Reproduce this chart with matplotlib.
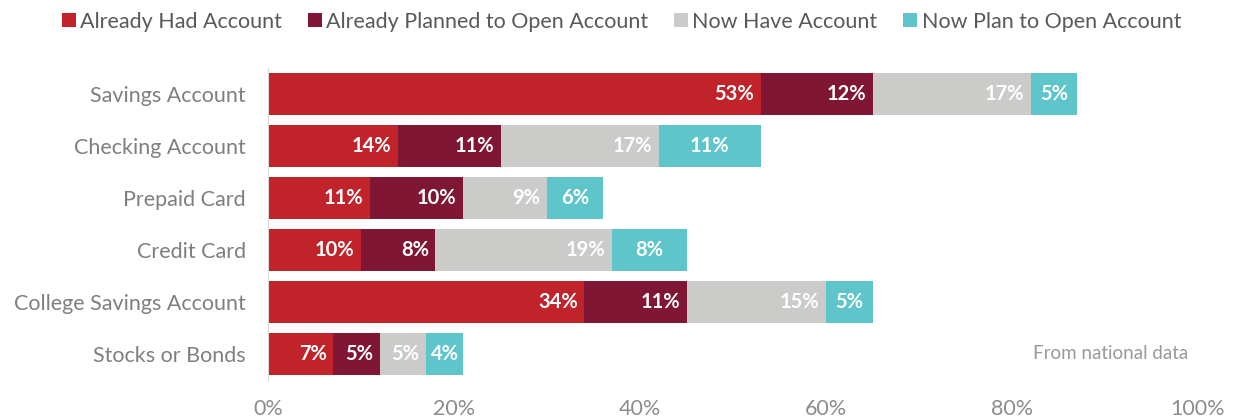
import matplotlib.pyplot as plt

plt.rcParams['font.family'] = ['Lato', 'DejaVu Sans']

categories = ["Savings Account", "Checking Account", "Prepaid Card", "Credit Card",
              "College Savings Account", "Stocks or Bonds"]
series_names = ["Already Had Account", "Already Planned to Open Account",
                "Now Have Account", "Now Plan to Open Account"]
already_had = [53, 14, 11, 10, 34, 7]
already_planned = [12, 11, 10, 8, 11, 5]
now_have = [17, 17, 9, 19, 15, 5]
now_plan = [5, 11, 6, 8, 5, 4]
colors = ["#C1232B", "#7F1734", "#CBCBC9", "#5EC5CA"]
x_ticks = [0, 20, 40, 60, 80, 100]
note = "From national data"

fig = plt.figure(figsize=(12.38, 4.19), dpi=100)
ax = fig.add_axes([268 / 1238, 1 - 380 / 419, 930 / 1238, 312 / 419])

ypos = list(range(len(categories)))
left = [0] * len(categories)
all_series = [already_had, already_planned, now_have, now_plan]
for i, vals in enumerate(all_series):
	ax.barh(ypos, vals, left=left, height=0.79, color=colors[i], label=series_names[i])
	for y, l, v in zip(ypos, left, vals):
		if i == 3:
			ax.text(l + v / 2, y, "%d%%" % v, ha="center", va="center",
					color="white", fontsize=14.5, fontweight="bold")
		else:
			ax.text(l + v - 0.7, y, "%d%%" % v, ha="right", va="center",
					color="white", fontsize=14.5, fontweight="bold")
	left = [a + b for a, b in zip(left, vals)]

ax.set_ylim(len(categories) - 0.5, -0.5)
ax.set_xlim(0, 100)
ax.set_yticks(ypos)
ax.set_yticklabels(categories, fontsize=15.5, color="#7F7F7F")
ax.set_xticks(x_ticks)
ax.set_xticklabels(["%d%%" % t for t in x_ticks], fontsize=15.5, color="#8C8C8C")
ax.tick_params(axis="y", length=0, pad=16)
ax.tick_params(axis="x", length=0, pad=14)
for s in ["top", "right", "bottom"]:
	ax.spines[s].set_visible(False)
ax.spines["left"].set_color("#D9D9D9")

ax.text(0.99, 0.085, note, transform=ax.transAxes, ha="right", va="center",
		fontsize=13.5, color="#999999")

fig.legend(loc="center", bbox_to_anchor=(0.502, 0.948), ncol=4, frameon=False,
		   fontsize=15.5, handlelength=0.65, handleheight=0.65, handletextpad=0.2,
		   columnspacing=1.2, labelcolor="#595959")

fig.savefig("out.png", dpi=100)
